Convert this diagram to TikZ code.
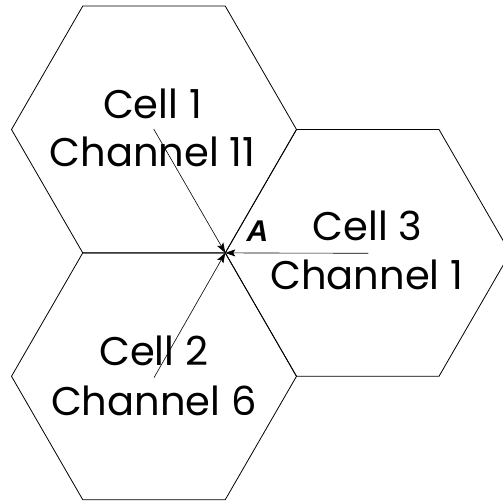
\documentclass[tikz,border=0pt]{standalone}
\usepackage{fontspec}
\setmainfont{Poppins}
\newfontfamily\afont{Liberation Sans}
\usetikzlibrary{calc,arrows.meta}
\begin{document}
\begin{tikzpicture}[x=1pt,y=-1pt,
  hexline/.style={line width=0.8pt,line join=miter},
  ray/.style={line width=0.6pt,-{Stealth[length=10pt,width=7pt,inset=2pt]}},
  celltext/.style={font=\fontsize{40}{48}\selectfont,align=center,inner sep=0pt,anchor=base}]
\useasboundingbox (0,0) rectangle (503,502);
\def\R{142.5}
\coordinate (c1) at (154,129.5);
\coordinate (c2) at (154,376.3);
\coordinate (c3) at (367.75,252.9);
\coordinate (A) at (225.25,252.9);
\foreach \c in {c1,c2,c3}{
  \draw[hexline] ($(\c)+(0:\R)$) -- ($(\c)+(60:\R)$) -- ($(\c)+(120:\R)$) -- ($(\c)+(180:\R)$) -- ($(\c)+(240:\R)$) -- ($(\c)+(300:\R)$) -- cycle;
}
\node[celltext] (t1a) at (152.5,118.3) {Cell 1};
\node[celltext] (t1b) at (152.5,166.7) {Channel 11};
\node[celltext] (t2a) at (153.8,365) {Cell 2};
\node[celltext] (t2b) at (153.8,415) {Channel 6};
\node[celltext] (t3a) at (367.5,240.7) {Cell 3};
\node[celltext] (t3b) at (366.7,290) {Channel 1};
\node[anchor=base,inner sep=0pt,font=\afont\fontsize{30}{34}\selectfont] (lA) at (257.5,241.7) {\textbf{\textit{A}}};
\coordinate (s1) at (153.7,129);
\coordinate (s2) at (154,377.7);
\coordinate (s3) at (368.3,253.3);
\draw[ray] (s1) -- (A);
\draw[ray] (s2) -- (A);
\draw[ray] (s3) -- (A);
\end{tikzpicture}
\end{document}
